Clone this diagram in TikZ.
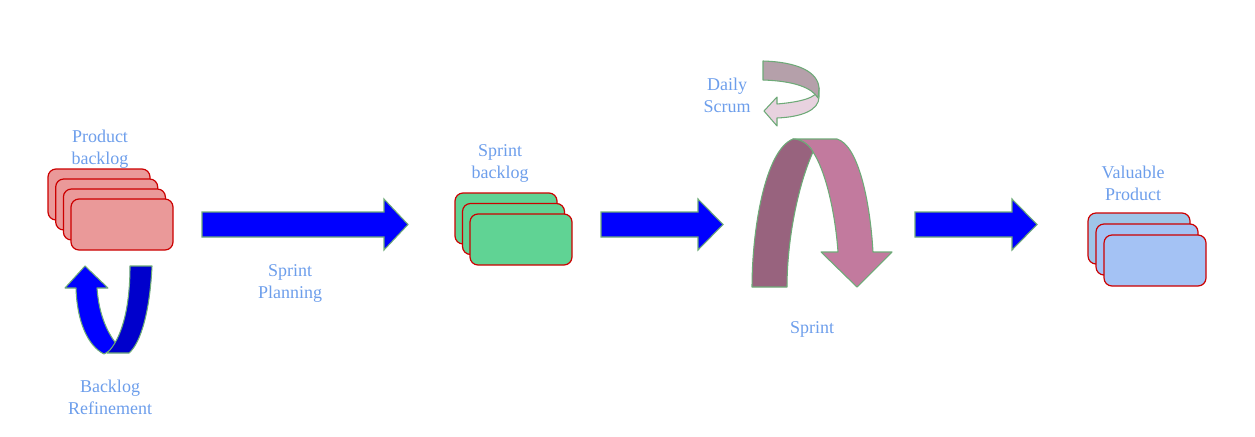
\documentclass[tikz,border=0pt]{standalone}
\usepackage{fontspec}
\setmainfont{Liberation Serif}
\usepackage{tikz}
\usetikzlibrary{positioning}

\definecolor{labelblue}{RGB}{109,158,235}
\definecolor{edgegreen}{RGB}{110,170,120}
\definecolor{cardred}{RGB}{204,0,0}
\definecolor{pinkfill}{RGB}{234,153,153}
\definecolor{greenfill}{RGB}{96,211,148}
\definecolor{bluefill}{RGB}{164,194,244}
\definecolor{bluefilltop}{RGB}{159,197,232}
\definecolor{mauvedark}{RGB}{152,99,126}
\definecolor{mauvelight}{RGB}{194,122,158}
\definecolor{scrumtop}{RGB}{181,160,170}
\definecolor{scrumlow}{RGB}{232,210,223}

\tikzset{
  card/.style={draw=cardred, line width=0.9pt, rounded corners=6pt,
    minimum width=76.5pt, minimum height=38.25pt, inner sep=0pt},
  lbl/.style={text=labelblue, align=center, inner sep=0.75pt,
    font=\fontsize{13.5}{16.5}\selectfont},
  bigarrow/.style={draw=edgegreen, line width=0.8pt, fill=blue},
  loopband/.style={draw=edgegreen, line width=0.8pt, line join=round}
}

\begin{document}
\begin{tikzpicture}[x=0.75pt,y=0.75pt,yscale=-1]
\useasboundingbox (0,0) rectangle (1255,436);

%Product backlog stack
\node[card, fill=pinkfill] (pb1) at (99,194.5) {};
\node[card, fill=pinkfill] (pb2) at (106.7,204.5) {};
\node[card, fill=pinkfill] (pb3) at (114.4,214.5) {};
\node[card, fill=pinkfill] (pb4) at (122,224.5) {};

%Sprint backlog stack
\node[card, fill=greenfill] (sb1) at (506,218.5) {};
\node[card, fill=greenfill] (sb2) at (513.5,229) {};
\node[card, fill=greenfill] (sb3) at (521,239.5) {};

%Valuable product stack
\node[card, fill=bluefilltop] (vp1) at (1139,238.5) {};
\node[card, fill=bluefill] (vp2) at (1147,249.5) {};
\node[card, fill=bluefill] (vp3) at (1155,260.5) {};

%Straight arrows
\foreach \xs/\xh/\xe in {202/384/408, 601/698/723, 915/1012/1037}
  \draw[bigarrow] (\xs,212) -- (\xh,212) -- (\xh,199) -- (\xe,224.5)
    -- (\xh,250) -- (\xh,237) -- (\xs,237) -- cycle;

%Backlog refinement loop
\draw[loopband, fill=blue] (76,288) .. controls (77,322) and (88,346) .. (104,354)
  -- (118,346) .. controls (108,334) and (99,316) .. (97,288)
  -- (108,288) -- (85,266) -- (65,288) -- cycle;
\draw[loopband, fill={rgb,255:red,0;green,0;blue,204}] (130,266) -- (152,266)
  .. controls (150,310) and (141,343) .. (129,353) -- (107,353)
  .. controls (121,340) and (130,310) .. (130,266) -- cycle;

%Sprint loop
\draw[loopband, fill=mauvelight] (793,139) -- (837,139)
  .. controls (858,145) and (870,200) .. (873,252) -- (892,252) -- (857,287)
  -- (821,252) -- (838,252) .. controls (835,210) and (825,170) .. (813,152)
  .. controls (808,143) and (800,139) .. (793,139) -- cycle;
\draw[loopband, fill=mauvedark] (752,287) .. controls (752,230) and (765,150) .. (793,139)
  .. controls (800,139) and (808,143) .. (813,152)
  .. controls (798,185) and (787,240) .. (787,287) -- cycle;

%Daily scrum loop
\draw[loopband, fill=scrumlow] (819,88) .. controls (818,98) and (800,102) .. (777,104)
  -- (777,97) -- (764,111) -- (777,126) -- (777,118)
  .. controls (802,117) and (819,110) .. (819,97) -- cycle;
\draw[loopband, fill=scrumtop] (763,61) .. controls (798,62) and (818,72) .. (819,88)
  -- (818,98) .. controls (812,88) and (795,81) .. (763,80) -- cycle;

% Text Node
\node[lbl] (pbtext) at (100,149) {Product\\backlog};
% Text Node
\node[lbl] (brtext) at (110,397) {Backlog\\Refinement};
% Text Node
\node[lbl] (sptext) at (290,283) {Sprint\\Planning};
% Text Node
\node[lbl] (sbtext) at (500,163) {Sprint\\backlog};
% Text Node
\node[lbl] (dstext) at (727,95) {Daily\\Scrum};
% Text Node
\node[lbl] (stext) at (812,329) {Sprint};
% Text Node
\node[lbl] (vptext) at (1133,183) {Valuable\\Product};

\end{tikzpicture}
\end{document}
